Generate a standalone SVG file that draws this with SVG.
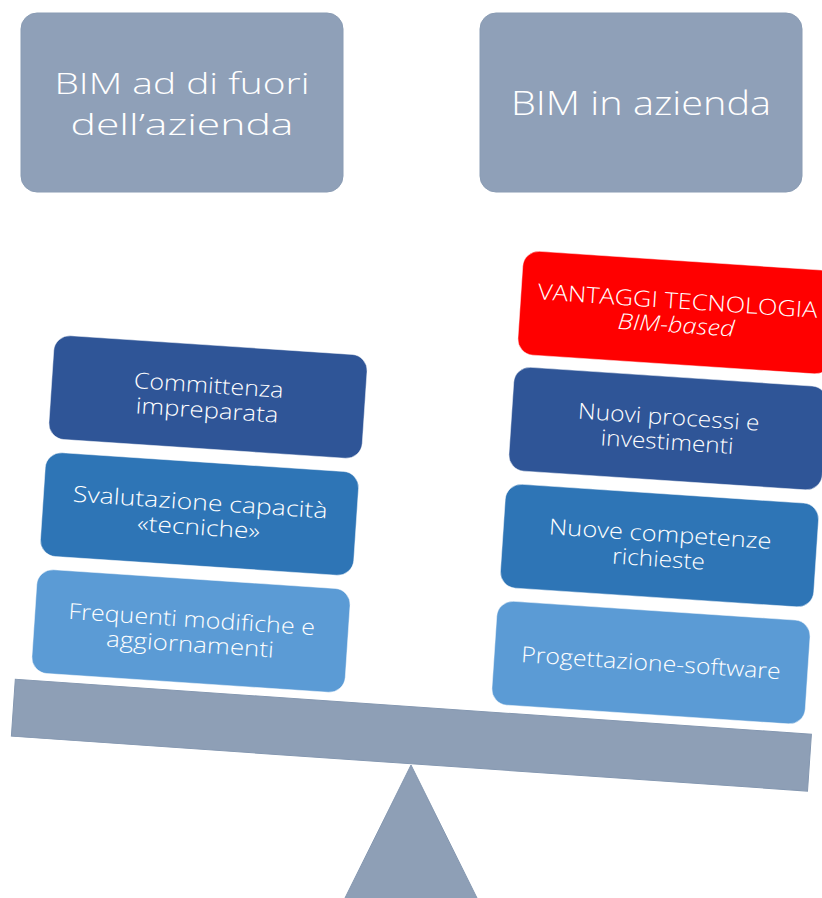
<svg xmlns="http://www.w3.org/2000/svg" width="822" height="898" viewBox="0 0 822 898">
<style>
.hdr{fill:#8FA0B8;stroke:#8A9CB4;stroke-width:1}
.t{font-family:"Open Sans","DejaVu Sans","Liberation Sans",sans-serif;font-weight:300;fill:#ffffff;text-anchor:middle}
.h{font-size:30px}
.h1{font-size:33px}
.b{font-size:22px}
.bx{stroke:#ffffff;stroke-width:0.8;stroke-opacity:0.6}
.c1{fill:#2F5597}.c2{fill:#2E75B6}.c3{fill:#5B9BD5}.red{fill:#FF0000}
.base{fill:#8E9FB6;stroke:#8497B0;stroke-width:1}
</style>
<rect width="822" height="898" fill="#ffffff"/>
<g id="scale">
  <polygon class="base" points="411,765 344,900 478,900"/>
  <rect class="base" x="-399" y="-28.5" width="798" height="57" transform="translate(411.4,735.2) rotate(3.95)"/>
</g>
<g id="hdr-left">
  <rect class="hdr" x="21" y="13" width="322" height="179" rx="16"/>
  <text class="t h" x="182" y="94" textLength="255" lengthAdjust="spacingAndGlyphs">BIM ad di fuori</text>
  <text class="t h" x="182" y="135" textLength="223" lengthAdjust="spacingAndGlyphs">dell’azienda</text>
</g>
<g id="hdr-right">
  <rect class="hdr" x="480" y="13" width="322" height="179" rx="16"/>
  <text class="t h1" x="641" y="115" textLength="260" lengthAdjust="spacingAndGlyphs">BIM in azienda</text>
</g>
<g id="l1" transform="translate(208,397) rotate(3.8)">
  <rect class="bx c1" x="-157" y="-52" width="314" height="104" rx="16"/>
  <text class="t b" x="0" y="-4" textLength="150" lengthAdjust="spacingAndGlyphs">Committenza</text>
  <text class="t b" x="0" y="21" textLength="143" lengthAdjust="spacingAndGlyphs">impreparata</text>
</g>
<g id="l2" transform="translate(199.5,514) rotate(3.8)">
  <rect class="bx c2" x="-157" y="-52" width="314" height="104" rx="16"/>
  <text class="t b" x="0" y="-4" textLength="255" lengthAdjust="spacingAndGlyphs">Svalutazione capacità</text>
  <text class="t b" x="0" y="21" textLength="123" lengthAdjust="spacingAndGlyphs">«tecniche»</text>
</g>
<g id="l3" transform="translate(191,631) rotate(3.8)">
  <rect class="bx c3" x="-157" y="-52" width="314" height="104" rx="16"/>
  <text class="t b" x="0" y="-4" textLength="247" lengthAdjust="spacingAndGlyphs">Frequenti modifiche e</text>
  <text class="t b" x="0" y="21" textLength="168" lengthAdjust="spacingAndGlyphs">aggiornamenti</text>
</g>
<g id="r0" transform="translate(677,312.6) rotate(3.8)">
  <rect class="bx red" x="-157" y="-52" width="314" height="104" rx="16"/>
  <text class="t b" x="0" y="-4" textLength="280" lengthAdjust="spacingAndGlyphs">VANTAGGI TECNOLOGIA</text>
  <text class="t b" x="0" y="20" font-style="italic" textLength="117" lengthAdjust="spacingAndGlyphs">BIM-based</text>
</g>
<g id="r1" transform="translate(668,428.6) rotate(3.8)">
  <rect class="bx c1" x="-157" y="-52" width="314" height="104" rx="16"/>
  <text class="t b" x="0" y="-4" textLength="182" lengthAdjust="spacingAndGlyphs">Nuovi processi e</text>
  <text class="t b" x="0" y="21" textLength="133" lengthAdjust="spacingAndGlyphs">investimenti</text>
</g>
<g id="r2" transform="translate(659.5,545.6) rotate(3.8)">
  <rect class="bx c2" x="-157" y="-52" width="314" height="104" rx="16"/>
  <text class="t b" x="0" y="-4" textLength="223" lengthAdjust="spacingAndGlyphs">Nuove competenze</text>
  <text class="t b" x="0" y="21" textLength="93" lengthAdjust="spacingAndGlyphs">richieste</text>
</g>
<g id="r3" transform="translate(651,662.6) rotate(3.8)">
  <rect class="bx c3" x="-157" y="-52" width="314" height="104" rx="16"/>
  <text class="t b" x="0" y="8" textLength="260" lengthAdjust="spacingAndGlyphs">Progettazione-software</text>
</g>
<g id="connectors"/>
</svg>
